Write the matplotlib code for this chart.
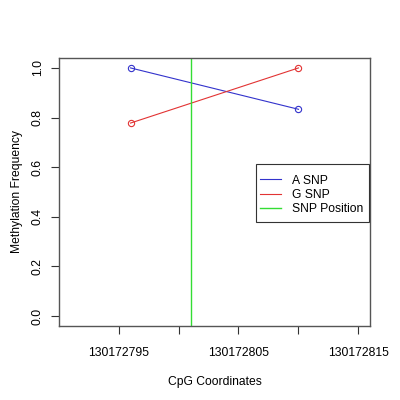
import matplotlib
matplotlib.use("Agg")
import matplotlib.pyplot as plt
from matplotlib.patches import Rectangle

plt.rcParams['font.family'] = ['Liberation Sans', 'DejaVu Sans']

a_x = [130172796, 130172810]
a_y = [1.0, 0.8333]
g_x = [130172796, 130172810]
g_y = [0.7778, 1.0]
snp_pos = 130172801
xticks = [130172795, 130172800, 130172805, 130172810, 130172815]
xticklabels = ["130172795", "", "130172805", "", "130172815"]
yticks = [0.0, 0.2, 0.4, 0.6, 0.8, 1.0]

blue = '#3333cc'
red = '#e23333'
green = '#33dd33'

fig = plt.figure(figsize=(4, 4), dpi=100)
ax = fig.add_axes([59/400, 1-326/400, (370-59)/400, (326-58)/400])

la, = ax.plot(a_x, a_y, color=blue, lw=0.8, label='A SNP')
ax.plot(a_x, a_y, 'o', mfc='none', mec=blue, ms=4.5, mew=0.8)
lg, = ax.plot(g_x, g_y, color=red, lw=0.8, label='G SNP')
ax.plot(g_x, g_y, 'o', mfc='none', mec=red, ms=4.5, mew=0.8)
ls = ax.axvline(snp_pos, color=green, lw=1.0, label='SNP Position')

ax.set_xlim(130172790.04, 130172815.96)
ax.set_ylim(-0.04, 1.04)
ax.set_xticks(xticks)
ax.set_xticklabels(xticklabels, fontsize=8.7)
ax.set_yticks(yticks)
ax.set_yticklabels([f"{v:.1f}" for v in yticks], fontsize=8.7, rotation=90, va='center')
ax.tick_params(axis='x', length=6, pad=9, color='#333333')
ax.tick_params(axis='y', length=6, pad=5, color='#333333')
for s in ax.spines.values():
    s.set_color('#555555')
    s.set_linewidth(1.0)

ax.set_xlabel('CpG Coordinates', fontsize=8.7, labelpad=12)
ax.set_ylabel('Methylation Frequency', fontsize=8.7, labelpad=6)

# legend box (R style, asymmetric padding)
box = Rectangle((256/400, 1-222/400), (369-256)/400, (222-164)/400,
                transform=fig.transFigure, fill=True, facecolor='white',
                edgecolor='#333333', lw=0.8, zorder=4, clip_on=False)
ax.add_patch(box)
leg = ax.legend(handles=[la, lg, ls],
                loc='upper left', bbox_to_anchor=(260/400, 1-174.5/400),
                bbox_transform=fig.transFigure, fontsize=8.7, frameon=False,
                borderaxespad=0, handlelength=1.72, handletextpad=0.92,
                borderpad=0, labelspacing=0.2)
leg.set_zorder(6)

fig.savefig('out.png', dpi=100)
